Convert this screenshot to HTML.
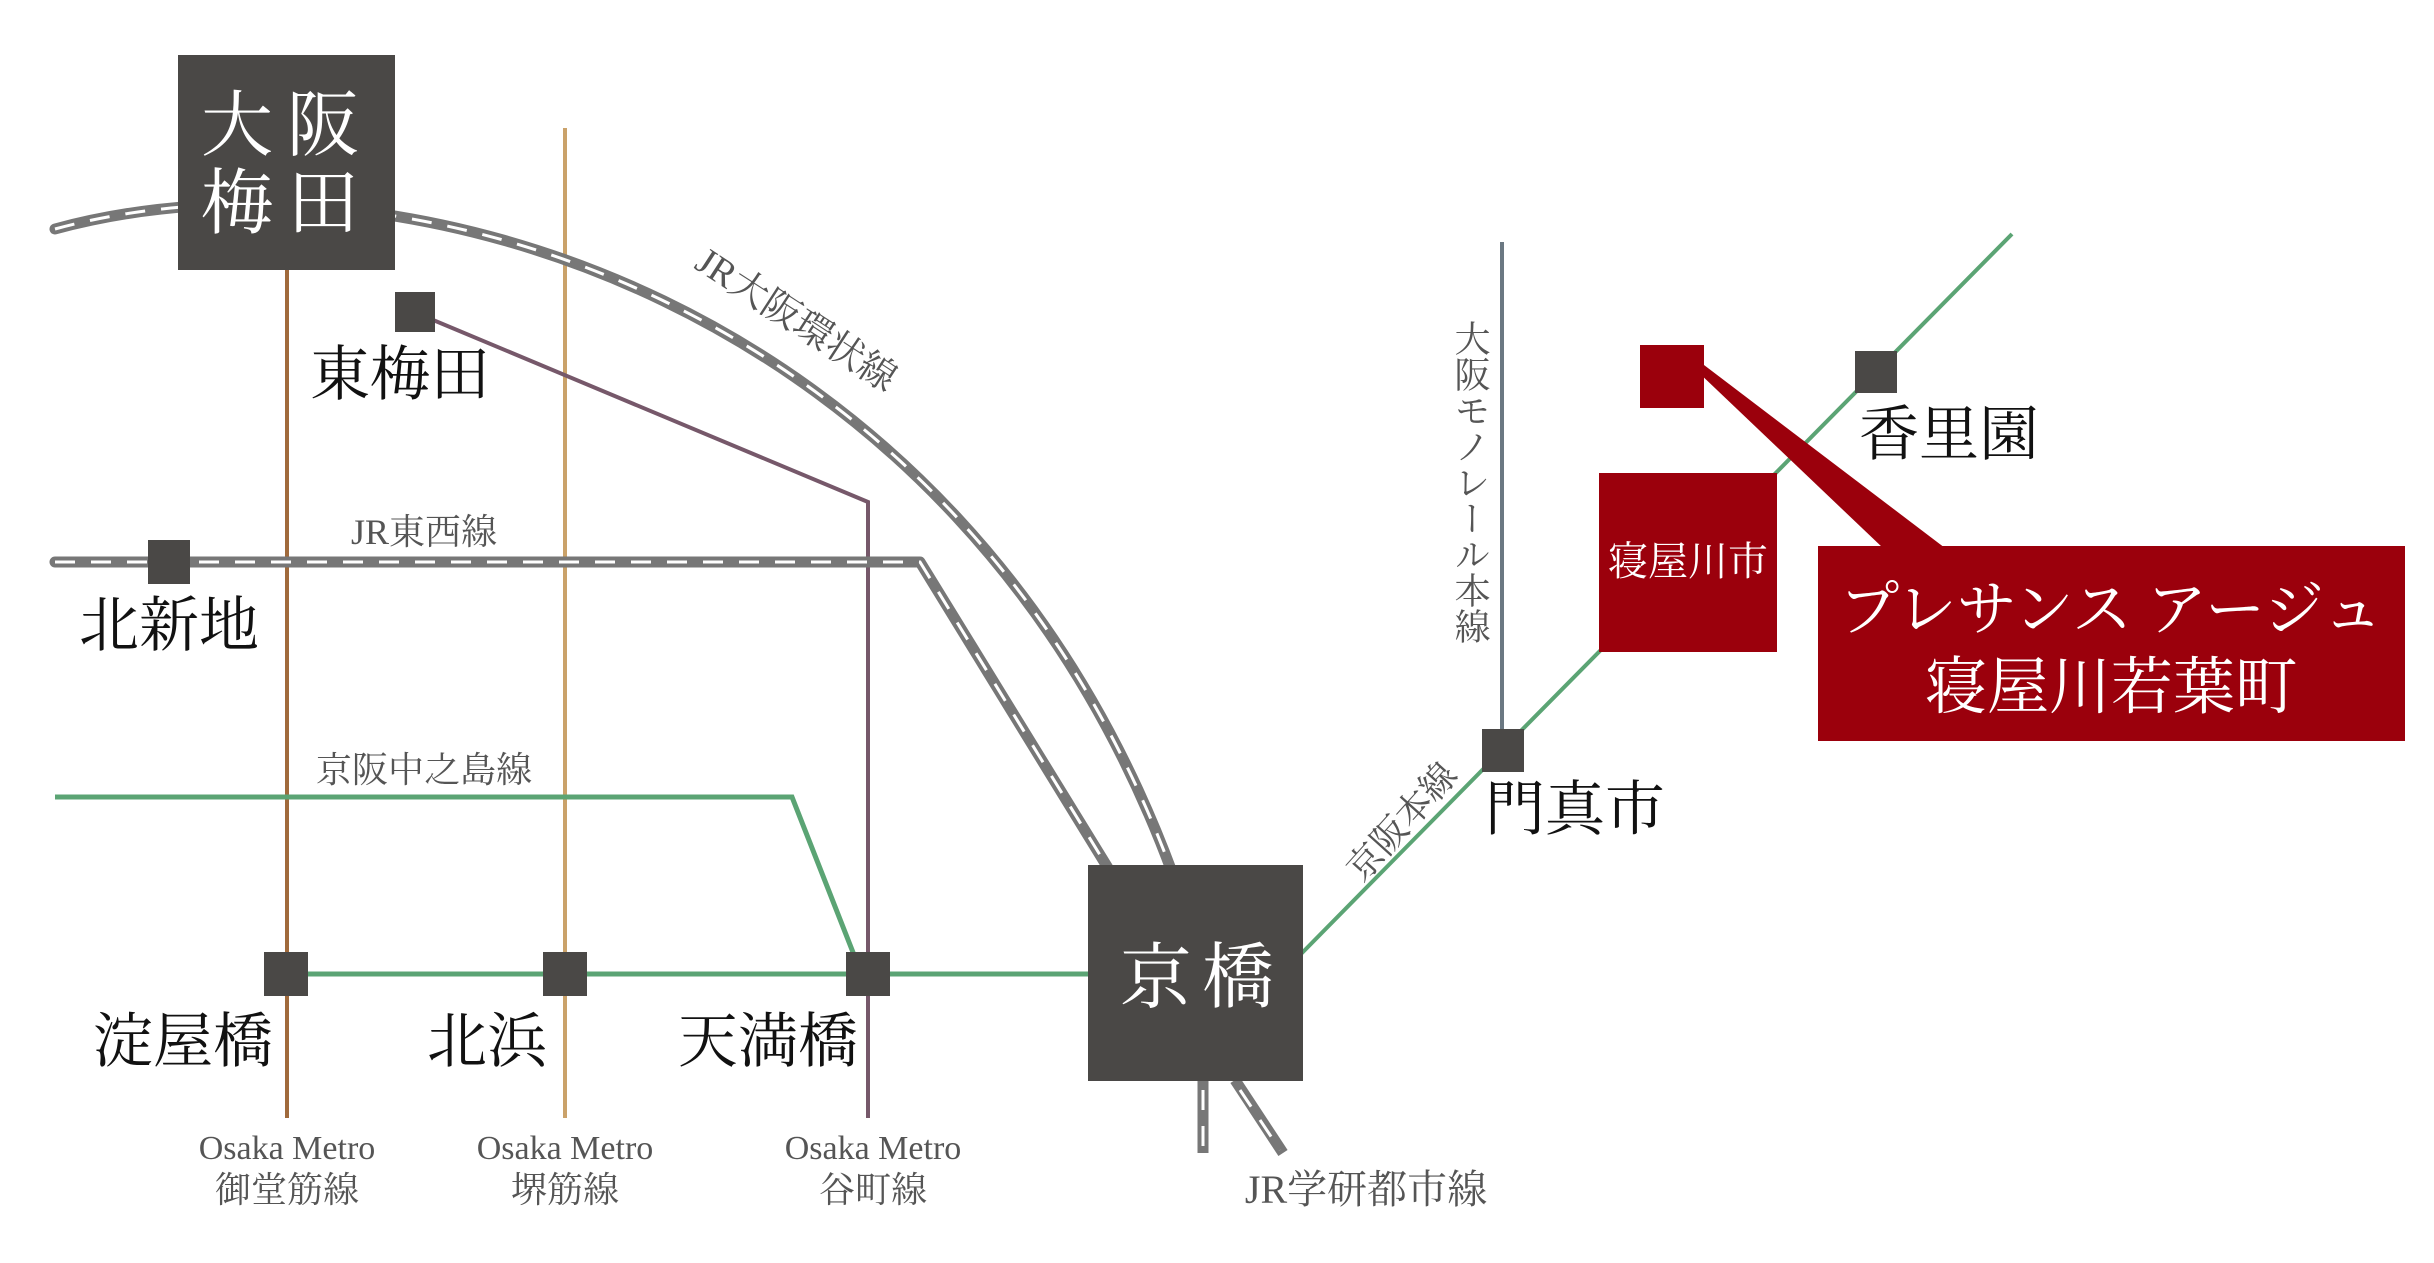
<!DOCTYPE html>
<html><head><meta charset="utf-8"><style>
html,body{margin:0;padding:0;background:#fff;}
svg{display:block;}
text{font-family:"Liberation Serif","Noto Serif CJK JP","Noto Serif CJK SC",serif;}
</style></head><body>
<svg width="2434" height="1263" viewBox="0 0 2434 1263" xmlns="http://www.w3.org/2000/svg">
<g fill="none" stroke-linecap="butt">
<line x1="287" y1="270" x2="287" y2="1118" stroke="#a06a3c" stroke-width="4"/>
<line x1="565" y1="128" x2="565" y2="1118" stroke="#caa26a" stroke-width="4"/>
<polyline points="414,312 868,502 868,1118" stroke="#76586a" stroke-width="4"/>
<polyline points="55,797 792,797 856,960" stroke="#5ba474" stroke-width="5"/>
<line x1="287" y1="974" x2="1095" y2="974" stroke="#5ba474" stroke-width="5"/>
<polyline points="1300,955 1502,750 2012,234" stroke="#5ba474" stroke-width="4"/>
<line x1="1502" y1="242" x2="1502" y2="750" stroke="#6b7882" stroke-width="4"/>
<g stroke="#777" stroke-width="11" stroke-linecap="round">
<path d="M55,229 C400,135 960,300 1172,872"/>
<polyline points="55,562 920,562 1108,868" stroke-linejoin="round"/>
</g>
<g stroke="#777" stroke-width="11">
<line x1="1203" y1="1080" x2="1203" y2="1153"/>
<line x1="1235" y1="1080" x2="1283" y2="1153"/>
</g>
<g stroke="#fff" stroke-width="3" stroke-dasharray="20,16">
<path d="M55,229 C400,135 960,300 1172,872"/>
<polyline points="55,562 920,562 1108,868"/>
<line x1="1203" y1="1090" x2="1203" y2="1150"/>
<line x1="1240" y1="1090" x2="1280" y2="1150"/>
</g>
</g>
<g fill="#4a4846">
<rect x="178" y="55" width="217" height="215"/>
<rect x="1088" y="865" width="215" height="216"/>
<rect x="148" y="540" width="42" height="44"/>
<rect x="395" y="292" width="40" height="40"/>
<rect x="264" y="952" width="44" height="44"/>
<rect x="543" y="952" width="44" height="44"/>
<rect x="846" y="952" width="44" height="44"/>
<rect x="1482" y="729" width="42" height="43"/>
<rect x="1855" y="351" width="42" height="42"/>
</g>
<g fill="#9b000c">
<polygon points="1696,370 1704,365 1945,548 1883,548"/>
<rect x="1640" y="345" width="64" height="63"/>
<rect x="1599" y="473" width="178" height="179"/>
<rect x="1818" y="546" width="587" height="195"/>
</g>
<g fill="#fff" text-anchor="middle">
<text x="287" y="150" font-size="72" letter-spacing="14">大阪</text>
<text x="287" y="228" font-size="72" letter-spacing="14">梅田</text>
<text x="1202" y="1002" font-size="72" letter-spacing="10">京橋</text>
<text x="1688" y="575" font-size="40">寝屋川市</text>
<text x="2111" y="630" font-size="60">プレサンス アージュ</text>
<text x="2111" y="708" font-size="62">寝屋川若葉町</text>
</g>
<g fill="#111" font-size="60" text-anchor="middle">
<text x="400" y="395">東梅田</text>
<text x="169" y="646">北新地</text>
<text x="183" y="1062">淀屋橋</text>
<text x="487" y="1062">北浜</text>
<text x="768" y="1062">天満橋</text>
<text x="1575" y="830">門真市</text>
<text x="1949" y="455">香里園</text>
</g>
<g fill="#555" text-anchor="middle" font-size="36">
<text x="424" y="544">JR東西線</text>
<text x="424" y="782">京阪中之島線</text>
<text x="287" y="1159" font-size="34">Osaka Metro</text>
<text x="287" y="1202">御堂筋線</text>
<text x="565" y="1159" font-size="34">Osaka Metro</text>
<text x="565" y="1202">堺筋線</text>
<text x="873" y="1159" font-size="34">Osaka Metro</text>
<text x="873" y="1202">谷町線</text>
<text x="1366" y="1203" font-size="40">JR学研都市線</text>
<text x="796" y="332" font-size="38" transform="rotate(33 796 320)">JR大阪環状線</text>
<text x="1402" y="834" font-size="36" transform="rotate(-48 1402 822)">京阪本線</text>
<text x="1470" y="320" font-size="36" style="writing-mode:vertical-rl;" text-anchor="start">大阪モノレール本線</text>
</g>
</svg>
</body></html>
